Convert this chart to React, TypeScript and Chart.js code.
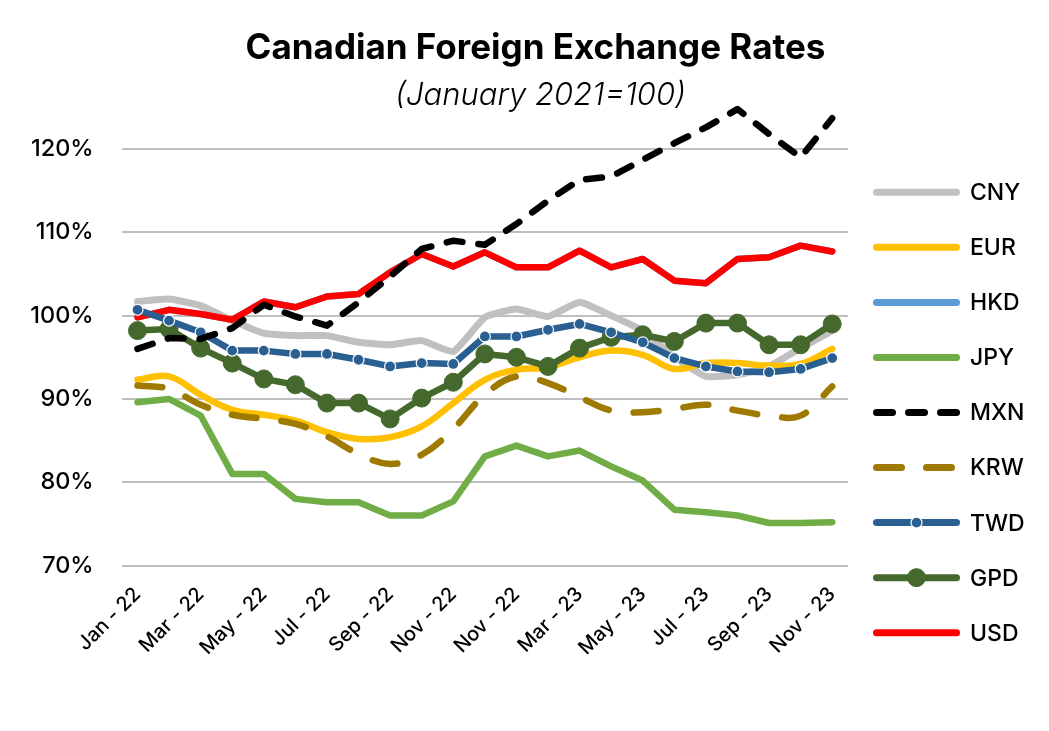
import React, { useEffect, useRef } from 'react';
import { Chart, registerables } from 'chart.js';

Chart.register(...registerables);

const TITLE = 'Canadian Foreign Exchange Rates';
const SUBTITLE = '(January 2021=100)';

const categories = [
  'Jan - 22', 'Feb - 22', 'Mar - 22', 'Apr - 22', 'May - 22', 'Jun - 22',
  'Jul - 22', 'Aug - 22', 'Sep - 22', 'Oct - 22', 'Nov - 22', 'Dec - 22',
  'Jan - 23', 'Feb - 23', 'Mar - 23', 'Apr - 23', 'May - 23', 'Jun - 23',
  'Jul - 23', 'Aug - 23', 'Sep - 23', 'Oct - 23', 'Nov - 23',
];

// labels as printed on the reference axis (every second month)
const tickLabels = [
  'Jan - 22', 'Mar - 22', 'May - 22', 'Jul - 22', 'Sep - 22', 'Nov - 22',
  'Nov - 22', 'Mar - 23', 'May - 23', 'Jul - 23', 'Sep - 23', 'Nov - 23',
];

const yTickValues = [70, 80, 90, 100, 110, 120];

const cny = [101.7, 102.0, 101.2, 99.4, 97.9, 97.6, 97.6, 96.8, 96.5, 97.0, 95.7, 99.8, 100.8, 99.9, 101.6, 100.0, 98.2, 95.0, 92.7, 92.9, 93.9, 96.1, 98.2];
const eur = [92.3, 92.7, 90.5, 88.7, 88.1, 87.4, 86.0, 85.2, 85.4, 86.7, 89.5, 92.3, 93.5, 93.8, 95.0, 95.8, 95.3, 93.6, 94.3, 94.3, 94.0, 94.2, 96.0];
const hkd = [99.8, 100.7, 100.2, 99.5, 101.7, 101.0, 102.3, 102.6, 105.2, 107.4, 105.9, 107.6, 105.8, 105.8, 107.8, 105.8, 106.8, 104.2, 103.9, 106.8, 107.0, 108.4, 107.7];
const jpy = [89.6, 90.0, 88.0, 81.0, 81.0, 78.0, 77.6, 77.6, 76.0, 76.0, 77.7, 83.1, 84.4, 83.1, 83.8, 81.9, 80.2, 76.7, 76.4, 76.0, 75.1, 75.1, 75.2];
const mxn = [96.0, 97.3, 97.2, 98.5, 101.3, 99.9, 98.8, 101.6, 104.7, 108.0, 109.0, 108.5, 111.0, 113.8, 116.3, 116.7, 118.7, 120.7, 122.6, 124.8, 121.8, 119.0, 123.7];
const krw = [91.6, 91.2, 89.3, 88.1, 87.6, 87.0, 85.5, 83.4, 82.2, 83.3, 86.4, 90.5, 92.7, 91.9, 90.2, 88.6, 88.4, 88.8, 89.3, 88.6, 88.0, 88.0, 91.5];
const twd = [100.7, 99.4, 98.0, 95.8, 95.8, 95.4, 95.4, 94.7, 93.9, 94.3, 94.2, 97.5, 97.5, 98.3, 99.0, 98.0, 96.8, 94.9, 93.9, 93.3, 93.2, 93.6, 94.9];
const gpd = [98.2, 98.4, 96.1, 94.3, 92.4, 91.7, 89.5, 89.5, 87.6, 90.1, 92.0, 95.4, 95.0, 93.9, 96.1, 97.4, 97.7, 96.9, 99.1, 99.1, 96.5, 96.5, 99.0];
const usd = [99.8, 100.7, 100.2, 99.5, 101.7, 101.0, 102.3, 102.6, 105.2, 107.4, 105.9, 107.6, 105.8, 105.8, 107.8, 105.8, 106.8, 104.2, 103.9, 106.8, 107.0, 108.4, 107.7];

const FONT = 'Inter';

const titlePlugin = {
  id: 'titles',
  afterDraw(chart: any) {
    const ctx = chart.ctx as CanvasRenderingContext2D;
    ctx.save();
    ctx.fillStyle = '#000';
    ctx.textAlign = 'center';
    ctx.textBaseline = 'alphabetic';
    ctx.font = `700 35px ${FONT}`;
    ctx.fillText(TITLE, 527.5, 51);
    ctx.font = `italic 300 31px ${FONT}`;
    ctx.fillText(SUBTITLE, 532.5, 97);
    ctx.restore();
  },
};

const legendPlugin = {
  id: 'sideLegend',
  afterDraw(chart: any) {
    const ctx = chart.ctx as CanvasRenderingContext2D;
    const x0 = 865;
    const x1 = 952;
    const textX = 962;
    const y0 = 184.3;
    const dy = 55.05;
    chart.data.datasets.forEach((ds: any, i: number) => {
      const y = y0 + i * dy;
      ctx.save();
      ctx.strokeStyle = ds.borderColor;
      ctx.lineWidth = 7;
      ctx.lineCap = 'round';
      ctx.setLineDash(ds.borderDash || []);
      ctx.beginPath();
      ctx.moveTo(x0 + 3.5, y);
      ctx.lineTo(x1 - 3.5, y);
      ctx.stroke();
      ctx.setLineDash([]);
      if (ds.pointRadius > 0) {
        ctx.beginPath();
        ctx.arc((x0 + x1) / 2, y, ds.pointRadius, 0, Math.PI * 2);
        ctx.fillStyle = ds.pointBackgroundColor;
        ctx.fill();
        ctx.lineWidth = ds.pointBorderWidth;
        ctx.strokeStyle = ds.pointBorderColor;
        ctx.stroke();
      }
      ctx.fillStyle = '#000';
      ctx.font = `500 23px ${FONT}`;
      ctx.textAlign = 'left';
      ctx.textBaseline = 'middle';
      ctx.fillText(ds.label, textX, y + 1);
      ctx.restore();
    });
  },
};

function lineDs(label: string, data: number[], color: string, extra: any = {}) {
  return {
    label,
    data,
    borderColor: color,
    backgroundColor: color,
    borderWidth: 6.5,
    pointRadius: 0,
    pointHoverRadius: 0,
    tension: 0,
    borderCapStyle: 'round',
    borderJoinStyle: 'round',
    clip: false,
    fill: false,
    ...extra,
  };
}

export default function App() {
  const ref = useRef<HTMLCanvasElement>(null);

  useEffect(() => {
    const canvas = ref.current;
    if (!canvas) return;
    const chart = new Chart(canvas, {
      type: 'line',
      data: {
        labels: categories,
        datasets: [
          lineDs('CNY', cny, '#C0C0C0', { borderWidth: 7, tension: 0.15, order: 6 }),
          lineDs('EUR', eur, '#FFC000', { tension: 0.4, order: 5 }),
          lineDs('HKD', hkd, '#5B9BD5', { order: 8 }),
          lineDs('JPY', jpy, '#70AD47', { order: 7 }),
          lineDs('MXN', mxn, '#000000', { borderDash: [16, 16], order: 0 }),
          lineDs('KRW', krw, '#9E7A00', { borderDash: [25, 25], tension: 0.4, order: 4 }),
          lineDs('TWD', twd, '#2A5F91', {
            order: 1,
            pointRadius: 5.5,
            pointBackgroundColor: '#2A5F91',
            pointBorderColor: '#FFFFFF',
            pointBorderWidth: 1.2,
          }),
          lineDs('GPD', gpd, '#45692D', {
            order: 2,
            pointRadius: 9,
            pointBackgroundColor: '#45692D',
            pointBorderColor: '#45692D',
            pointBorderWidth: 1,
          }),
          lineDs('USD', usd, '#FF0000', { order: 3 }),
        ],
      },
      options: {
        animation: false,
        responsive: true,
        maintainAspectRatio: false,
        events: [],
        layout: { padding: { top: 99.4, right: 193, left: 0, bottom: 0 } },
        plugins: {
          legend: { display: false },
          title: { display: false },
          tooltip: { enabled: false },
        },
        scales: {
          x: {
            type: 'category',
            offset: true,
            grid: { display: false, drawTicks: false },
            border: { display: false },
            ticks: {
              autoSkip: false,
              maxRotation: 45,
              minRotation: 45,
              padding: 17,
              color: '#000',
              font: { family: FONT, size: 20, weight: '500' },
              callback: (_v: any, idx: number) => (idx % 2 === 0 ? tickLabels[idx / 2] : ''),
            },
            afterFit: (scale: any) => {
              scale.height = 157.5;
            },
          },
          y: {
            min: 70,
            max: 125,
            grid: { color: '#BFBFBF', lineWidth: 2, drawTicks: false },
            border: { display: false },
            ticks: {
              padding: 28,
              color: '#000',
              font: { family: FONT, size: 23.5, weight: '500' },
              callback: (v: any) => `${v}%`,
            },
            afterBuildTicks: (scale: any) => {
              scale.ticks = yTickValues.map((v) => ({ value: v }));
            },
            afterFit: (scale: any) => {
              scale.width = 113.7;
            },
          },
        },
      },
      plugins: [titlePlugin, legendPlugin],
    } as any);
    return () => chart.destroy();
  }, []);

  return (
    <div style={{ position: 'relative', width: 1033, height: 715 }}>
      <canvas ref={ref} />
    </div>
  );
}
